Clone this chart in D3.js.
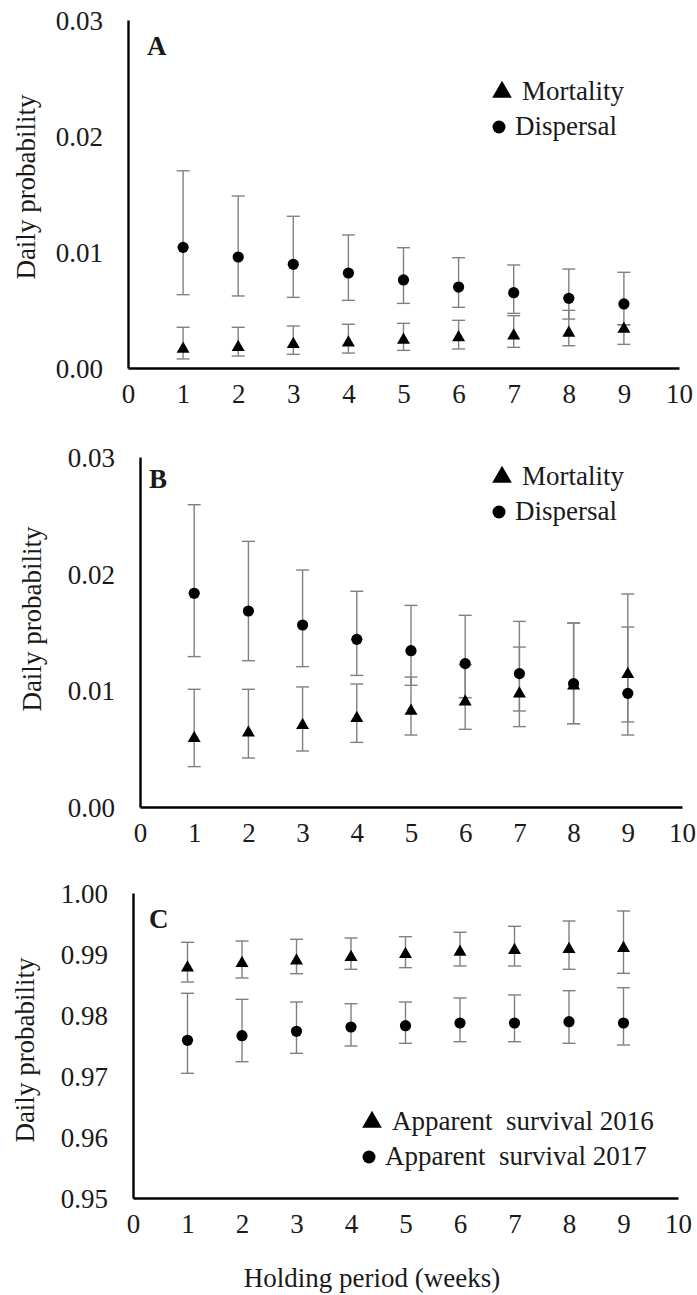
<!DOCTYPE html>
<html>
<head>
<meta charset="utf-8">
<script src="https://cdn.jsdelivr.net/npm/d3@7"></script>
<style>
  body { margin: 0; background: #fff; }
  svg { display: block; }
  svg text { font-family: 'Liberation Serif', 'Times New Roman', Times, serif !important; }
</style>
</head>
<body>
<svg id="chart" width="697" height="1295"></svg>
<script>
// holding period, weeks
const weeks = [1, 2, 3, 4, 5, 6, 7, 8, 9];
const xTicks = [0, 1, 2, 3, 4, 5, 6, 7, 8, 9, 10];
const yTicksAB = [0, 0.01, 0.02, 0.03];
const yTicksC = [0.95, 0.96, 0.97, 0.98, 0.99, 1.00];

// panel A
const mortA   = [0.00164, 0.00178, 0.00204, 0.00218, 0.00241, 0.00264, 0.00279, 0.00302, 0.00336];
const mortALo = [0.00078, 0.00103, 0.00118, 0.00129, 0.00152, 0.00164, 0.00178, 0.00192, 0.00204];
const mortAHi = [0.00351, 0.00351, 0.00362, 0.00377, 0.00385, 0.00411, 0.00451, 0.00497, 0.00373];
const dispA   = [0.0104, 0.00957, 0.00894, 0.00819, 0.00759, 0.00698, 0.00649, 0.00601, 0.00552];
const dispALo = [0.00632, 0.00621, 0.00609, 0.00583, 0.00557, 0.00523, 0.00471, 0.00422, 0.00373];
const dispAHi = [0.0170, 0.01483, 0.01308, 0.01147, 0.01037, 0.00951, 0.00888, 0.00853, 0.00825];

// panel B
const mortB   = [0.00589, 0.00637, 0.0070, 0.0076, 0.00823, 0.00903, 0.00971, 0.0104, 0.01137];
const mortBLo = [0.00346, 0.0042, 0.0048, 0.00554, 0.00617, 0.00666, 0.00689, 0.00714, 0.00729];
const mortBHi = [0.01009, 0.01009, 0.01029, 0.01054, 0.01114, 0.0122, 0.01371, 0.01577, 0.01826];
const dispB   = [0.01832, 0.0168, 0.0156, 0.01437, 0.0134, 0.01229, 0.01143, 0.01057, 0.00974];
const dispBLo = [0.01289, 0.01254, 0.01203, 0.01128, 0.01043, 0.00937, 0.00823, 0.00714, 0.00617];
const dispBHi = [0.02591, 0.02277, 0.02031, 0.01849, 0.01728, 0.01643, 0.01591, 0.01577, 0.01543];

// panel C
const surv16   = [0.98776, 0.98847, 0.9889, 0.98946, 0.98995, 0.99033, 0.99061, 0.99077, 0.99093];
const surv16Lo = [0.98541, 0.98607, 0.98677, 0.98749, 0.98776, 0.98803, 0.98803, 0.98749, 0.98684];
const surv16Hi = [0.99192, 0.99213, 0.99241, 0.99262, 0.99284, 0.99356, 0.99454, 0.99541, 0.99705];
const surv17   = [0.97585, 0.97661, 0.97733, 0.97803, 0.97825, 0.97869, 0.97869, 0.9789, 0.97869];
const surv17Lo = [0.97044, 0.97234, 0.97372, 0.97492, 0.97536, 0.97562, 0.97562, 0.97536, 0.97508];
const surv17Hi = [0.98356, 0.98257, 0.98213, 0.98185, 0.98213, 0.98279, 0.98328, 0.98398, 0.98448];

const svg = d3.select("#chart");
const fontSize = 27;
const textColor = "#1a1a1a";
const barColor = "#808080";

function series(mean, lo, hi) {
  return weeks.map(function (w, i) { return {x: w, y: mean[i], lo: lo[i], hi: hi[i]} });
}

const panels = [
  {label: "A", x0: 128, x1: 679, top: 20, bottom: 368, domain: [0, 0.03], ticks: yTicksAB,
   labelPos: [147, 55], titleY: 187, titleX: 26, legX: 502, legY: 100,
   series: [
     {shape: "tri", name: "Mortality", data: series(mortA, mortALo, mortAHi)},
     {shape: "circle", name: "Dispersal", data: series(dispA, dispALo, dispAHi)}
   ]},
  {label: "B", x0: 140, x1: 682, top: 457, bottom: 807, domain: [0, 0.03], ticks: yTicksAB,
   labelPos: [149, 488], titleY: 619, titleX: 32, legX: 502, legY: 485,
   series: [
     {shape: "tri", name: "Mortality", data: series(mortB, mortBLo, mortBHi)},
     {shape: "circle", name: "Dispersal", data: series(dispB, dispBLo, dispBHi)}
   ]},
  {label: "C", x0: 133, x1: 678, top: 893, bottom: 1198, domain: [0.95, 1.00], ticks: yTicksC,
   labelPos: [149, 928], titleY: 1050, titleX: 25, legX: 372, legY: 1130,
   series: [
     {shape: "tri", name: "Apparent  survival 2016", data: series(surv16, surv16Lo, surv16Hi)},
     {shape: "circle", name: "Apparent  survival 2017", data: series(surv17, surv17Lo, surv17Hi)}
   ]}
];

const triangle = d3.symbol().type(d3.symbolTriangle);

function marker(sel, shape, r) {
  if (shape === "circle") {
    sel.append("circle").attr("r", r).attr("fill", "#000");
  } else {
    sel.append("path").attr("d", triangle.size(r * r * 2.6)()).attr("fill", "#000");
  }
}

panels.forEach(function (p) {
  const x = d3.scaleLinear().domain([0, 10]).range([p.x0, p.x1]);
  const y = d3.scaleLinear().domain(p.domain).range([p.bottom, p.top]);
  const g = svg.append("g");

  // error bars
  p.series.forEach(function (s) {
    const bars = g.append("g")
        .attr("stroke", barColor)
        .attr("stroke-width", 1.4)
      .selectAll("g")
      .data(s.data)
      .join("g");
    bars.append("line")
        .attr("x1", function (d) { return x(d.x) })
        .attr("x2", function (d) { return x(d.x) })
        .attr("y1", function (d) { return y(d.lo) })
        .attr("y2", function (d) { return y(d.hi) });
    ["lo", "hi"].forEach(function (k) {
      bars.append("line")
          .attr("x1", function (d) { return x(d.x) - 6.5 })
          .attr("x2", function (d) { return x(d.x) + 6.5 })
          .attr("y1", function (d) { return y(d[k]) })
          .attr("y2", function (d) { return y(d[k]) });
    });
  });

  // points
  p.series.forEach(function (s) {
    g.append("g")
      .selectAll("g")
      .data(s.data)
      .join("g")
        .attr("transform", function (d) { return "translate(" + x(d.x) + "," + y(d.y) + ")" })
        .call(marker, s.shape, s.shape === "circle" ? 5.6 : 5.3);
  });

  // axes
  const yAxis = g.append("g")
      .attr("transform", "translate(" + p.x0 + ",0)")
      .call(d3.axisLeft(y).tickValues(p.ticks).tickFormat(d3.format(".2f")).tickSize(0).tickPadding(25));
  const xAxis = g.append("g")
      .attr("transform", "translate(0," + p.bottom + ")")
      .call(d3.axisBottom(x).tickValues(xTicks).tickFormat(d3.format("d")).tickSize(0).tickPadding(26));
  [yAxis, xAxis].forEach(function (a) {
    a.attr("font-family", null).attr("font-size", fontSize);
    a.select(".domain").attr("stroke", "#000").attr("stroke-width", 2.4);
    a.selectAll("text").attr("fill", textColor).attr("dy", "0.35em");
  });

  g.append("text")
      .attr("x", p.labelPos[0])
      .attr("y", p.labelPos[1])
      .attr("font-size", 27)
      .attr("font-weight", "bold")
      .attr("fill", textColor)
      .text(p.label);

  g.append("text")
      .attr("transform", "translate(" + p.titleX + "," + p.titleY + ") rotate(-90)")
      .attr("text-anchor", "middle")
      .attr("dy", "0.35em")
      .attr("font-size", fontSize)
      .attr("fill", textColor)
      .text("Daily probability");

  // legend
  p.series.forEach(function (s, i) {
    const ly = p.legY + i * 35;
    const m = g.append("g")
        .attr("transform", "translate(" + (p.legX - (s.shape === "circle" ? 3 : 0)) + "," + (ly - 8) + ")");
    marker(m, s.shape, s.shape === "circle" ? 6.5 : 8);
    g.append("text")
        .attr("x", p.legX + (s.shape === "circle" ? 13 : 20))
        .attr("y", ly)
        .attr("font-size", fontSize)
        .attr("fill", textColor)
        .style("white-space", "pre")
        .text(s.name);
  });
});

svg.append("text")
    .attr("x", 372)
    .attr("y", 1287)
    .attr("text-anchor", "middle")
    .attr("font-size", fontSize)
    .attr("fill", textColor)
    .text("Holding period (weeks)");
</script>
</body>
</html>
